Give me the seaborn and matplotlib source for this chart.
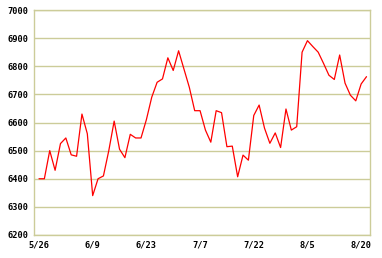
import matplotlib
matplotlib.use("Agg")
import matplotlib.pyplot as plt
import seaborn as sns
import pandas as pd

prices = [6400, 6400, 6500, 6430, 6525, 6545, 6485, 6480, 6630, 6560,
          6340, 6400, 6410, 6500, 6605, 6505, 6475, 6558, 6545, 6545,
          6610, 6690, 6743, 6755, 6830, 6785, 6855, 6790, 6725, 6642,
          6642, 6573, 6530, 6642, 6635, 6514, 6516, 6407, 6484, 6466,
          6625, 6662, 6580, 6526, 6563, 6511, 6648, 6573, 6585, 6850,
          6891, 6870, 6850, 6810, 6768, 6753, 6840, 6740, 6697, 6677,
          6737, 6763]
tick_labels = ["5/26", "6/9", "6/23", "7/7", "7/22", "8/5", "8/20"]
tick_pos = [0, 10, 20, 30, 40, 50, 60]
y_ticks = [6200, 6300, 6400, 6500, 6600, 6700, 6800, 6900, 7000]

df = pd.DataFrame({"day": list(range(len(prices))), "price": prices})

sns.set_style("white")
plt.rcParams['font.family'] = ['DejaVu Sans Mono', 'DejaVu Sans']
grid_c = "#cccc99"

fig = plt.figure(figsize=(3.82, 2.58), dpi=100)
ax = fig.add_axes([34/382, 23/258, 336/382, 225/258])
sns.lineplot(data=df, x="day", y="price", color="red", linewidth=0.9, ax=ax)

ax.set_xlim(-0.93, 61.65)
ax.set_ylim(6200, 7000)
ax.set_yticks(y_ticks)
ax.set_xticks(tick_pos)
ax.set_xticklabels(tick_labels)
ax.set_xlabel("")
ax.set_ylabel("")
ax.yaxis.grid(True, color=grid_c, linewidth=1.0)
ax.xaxis.grid(False)
for s in ax.spines.values():
    s.set_color(grid_c)
    s.set_linewidth(1.0)
ax.tick_params(axis="x", direction="in", length=4, color=grid_c, width=1,
               labelsize=6.2, pad=4)
ax.tick_params(axis="y", length=0, labelsize=6.2, pad=4)
for lab in ax.get_xticklabels() + ax.get_yticklabels():
    lab.set_fontweight("bold")
    lab.set_color("black")

fig.savefig("out.png", dpi=100)
